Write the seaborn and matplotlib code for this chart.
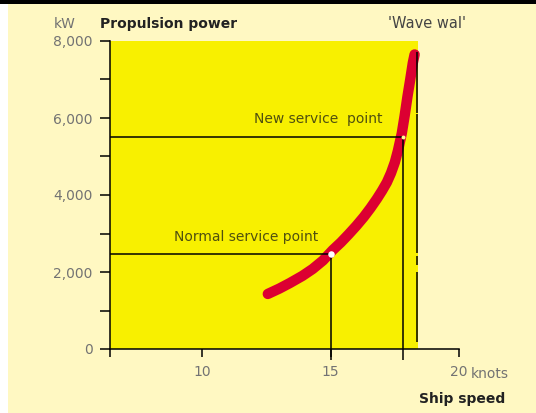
import matplotlib.pyplot as plt
import matplotlib.patches as mpatches
import seaborn as sns
import pandas as pd

# propulsion power curve
speed = [12.55, 13.0, 13.4, 13.9, 14.3, 14.7, 15.08, 15.4, 15.7, 16.0, 16.29, 16.55, 16.8,
         17.0, 17.19, 17.35, 17.5, 17.62, 17.77, 17.88, 17.99, 18.1, 18.2, 18.27]
power = [1430, 1570, 1710, 1900, 2080, 2300, 2570, 2770, 2980, 3200, 3430, 3660, 3900,
         4110, 4330, 4570, 4850, 5150, 5600, 6050, 6550, 7000, 7430, 7650]

normal_point = (15.0, 2470)
new_point = (17.8, 5500)
wave_wall = 18.36
wall_bottom = [6130, 2500, 2180, 180]
wall_top = [7710, 6100, 2420, 2000]
x_ticks = [6.4, 10, 15, 20]
x_labels = ['', '10', '15', '20']
y_ticks = [0, 2000, 4000, 6000, 8000]
y_minor = [1000, 3000, 5000, 7000]

df = pd.DataFrame({'speed': speed, 'power': power})

sns.set_style('ticks')
plt.rcParams['font.family'] = ['DejaVu Sans']

fig = plt.figure(figsize=(5.36, 4.13), dpi=100, facecolor='white')
fig.patches.append(mpatches.Rectangle((8 / 536, 0), 1, 1 - 4 / 413, transform=fig.transFigure,
                                      facecolor='#fff8c2', edgecolor='none', zorder=-10))
fig.patches.append(mpatches.Rectangle((0, 1 - 4 / 413), 1, 4 / 413, transform=fig.transFigure,
                                      facecolor='black', edgecolor='none', zorder=-10))

ax = fig.add_axes([110 / 536, 64 / 413, 349 / 536, 308 / 413])
ax.set_facecolor('none')
ax.axvspan(6.4, 18.4, color='#f8f000', lw=0, zorder=0)

sns.lineplot(data=df, x='speed', y='power', sort=False, color='#dc0032', linewidth=7.5,
             solid_capstyle='round', solid_joinstyle='round', zorder=3, ax=ax)

# service points
ax.hlines([normal_point[1], new_point[1]], 6.4, [normal_point[0], new_point[0]],
          color='black', lw=1.1, zorder=4)
ax.vlines([normal_point[0], new_point[0]], -290, [normal_point[1], new_point[1]],
          color='black', lw=1.1, zorder=4, clip_on=False)
ax.scatter([normal_point[0]], [normal_point[1]], s=22, color='white', zorder=5, linewidths=0)
ax.scatter([new_point[0]], [new_point[1]], s=8, color='#ffff90', zorder=5, linewidths=0)
ax.vlines([wave_wall] * len(wall_top), wall_bottom, wall_top, color='black', lw=1.1, zorder=4)

ax.text(14.53, 5973, 'New service  point', ha='center', va='center', color='#50500f', fontsize=10)
ax.text(11.7, 2909, 'Normal service point', ha='center', va='center', color='#50500f', fontsize=10)

ax.set_xlim(6.4, 20)
ax.set_ylim(0, 8000)
ax.set_xlabel('')
ax.set_ylabel('')
ax.set_xticks(x_ticks, x_labels)
ax.set_yticks(y_ticks, [f'{v:,}' for v in y_ticks])
ax.set_yticks(y_minor, minor=True)
ax.tick_params(axis='x', length=5.8, width=1.1, color='black', labelcolor='#737373',
               labelsize=10, pad=6)
ax.tick_params(axis='y', which='both', length=7, width=1.1, color='black', labelcolor='#737373',
               labelsize=10, pad=5.5)
for side in ['top', 'right']:
    ax.spines[side].set_visible(False)
for side in ['left', 'bottom']:
    ax.spines[side].set_color('black')
    ax.spines[side].set_linewidth(1.1)

fig.text(65 / 536, 1 - 24 / 413, 'kW', ha='center', va='center', color='#737373', fontsize=10)
fig.text(100 / 536, 1 - 24 / 413, 'Propulsion power', ha='left', va='center', color='#222222',
         fontsize=10, fontweight='bold')
fig.text(427 / 536, 1 - 24 / 413, "'Wave wal'", ha='center', va='center', color='#444444',
         fontsize=10.5)
fig.text(471 / 536, 1 - 374.5 / 413, 'knots', ha='left', va='center', color='#737373', fontsize=10)
fig.text(505 / 536, 1 - 398.5 / 413, 'Ship speed', ha='right', va='center', color='#222222',
         fontsize=10, fontweight='bold')

fig.savefig('out.png', dpi=100)
